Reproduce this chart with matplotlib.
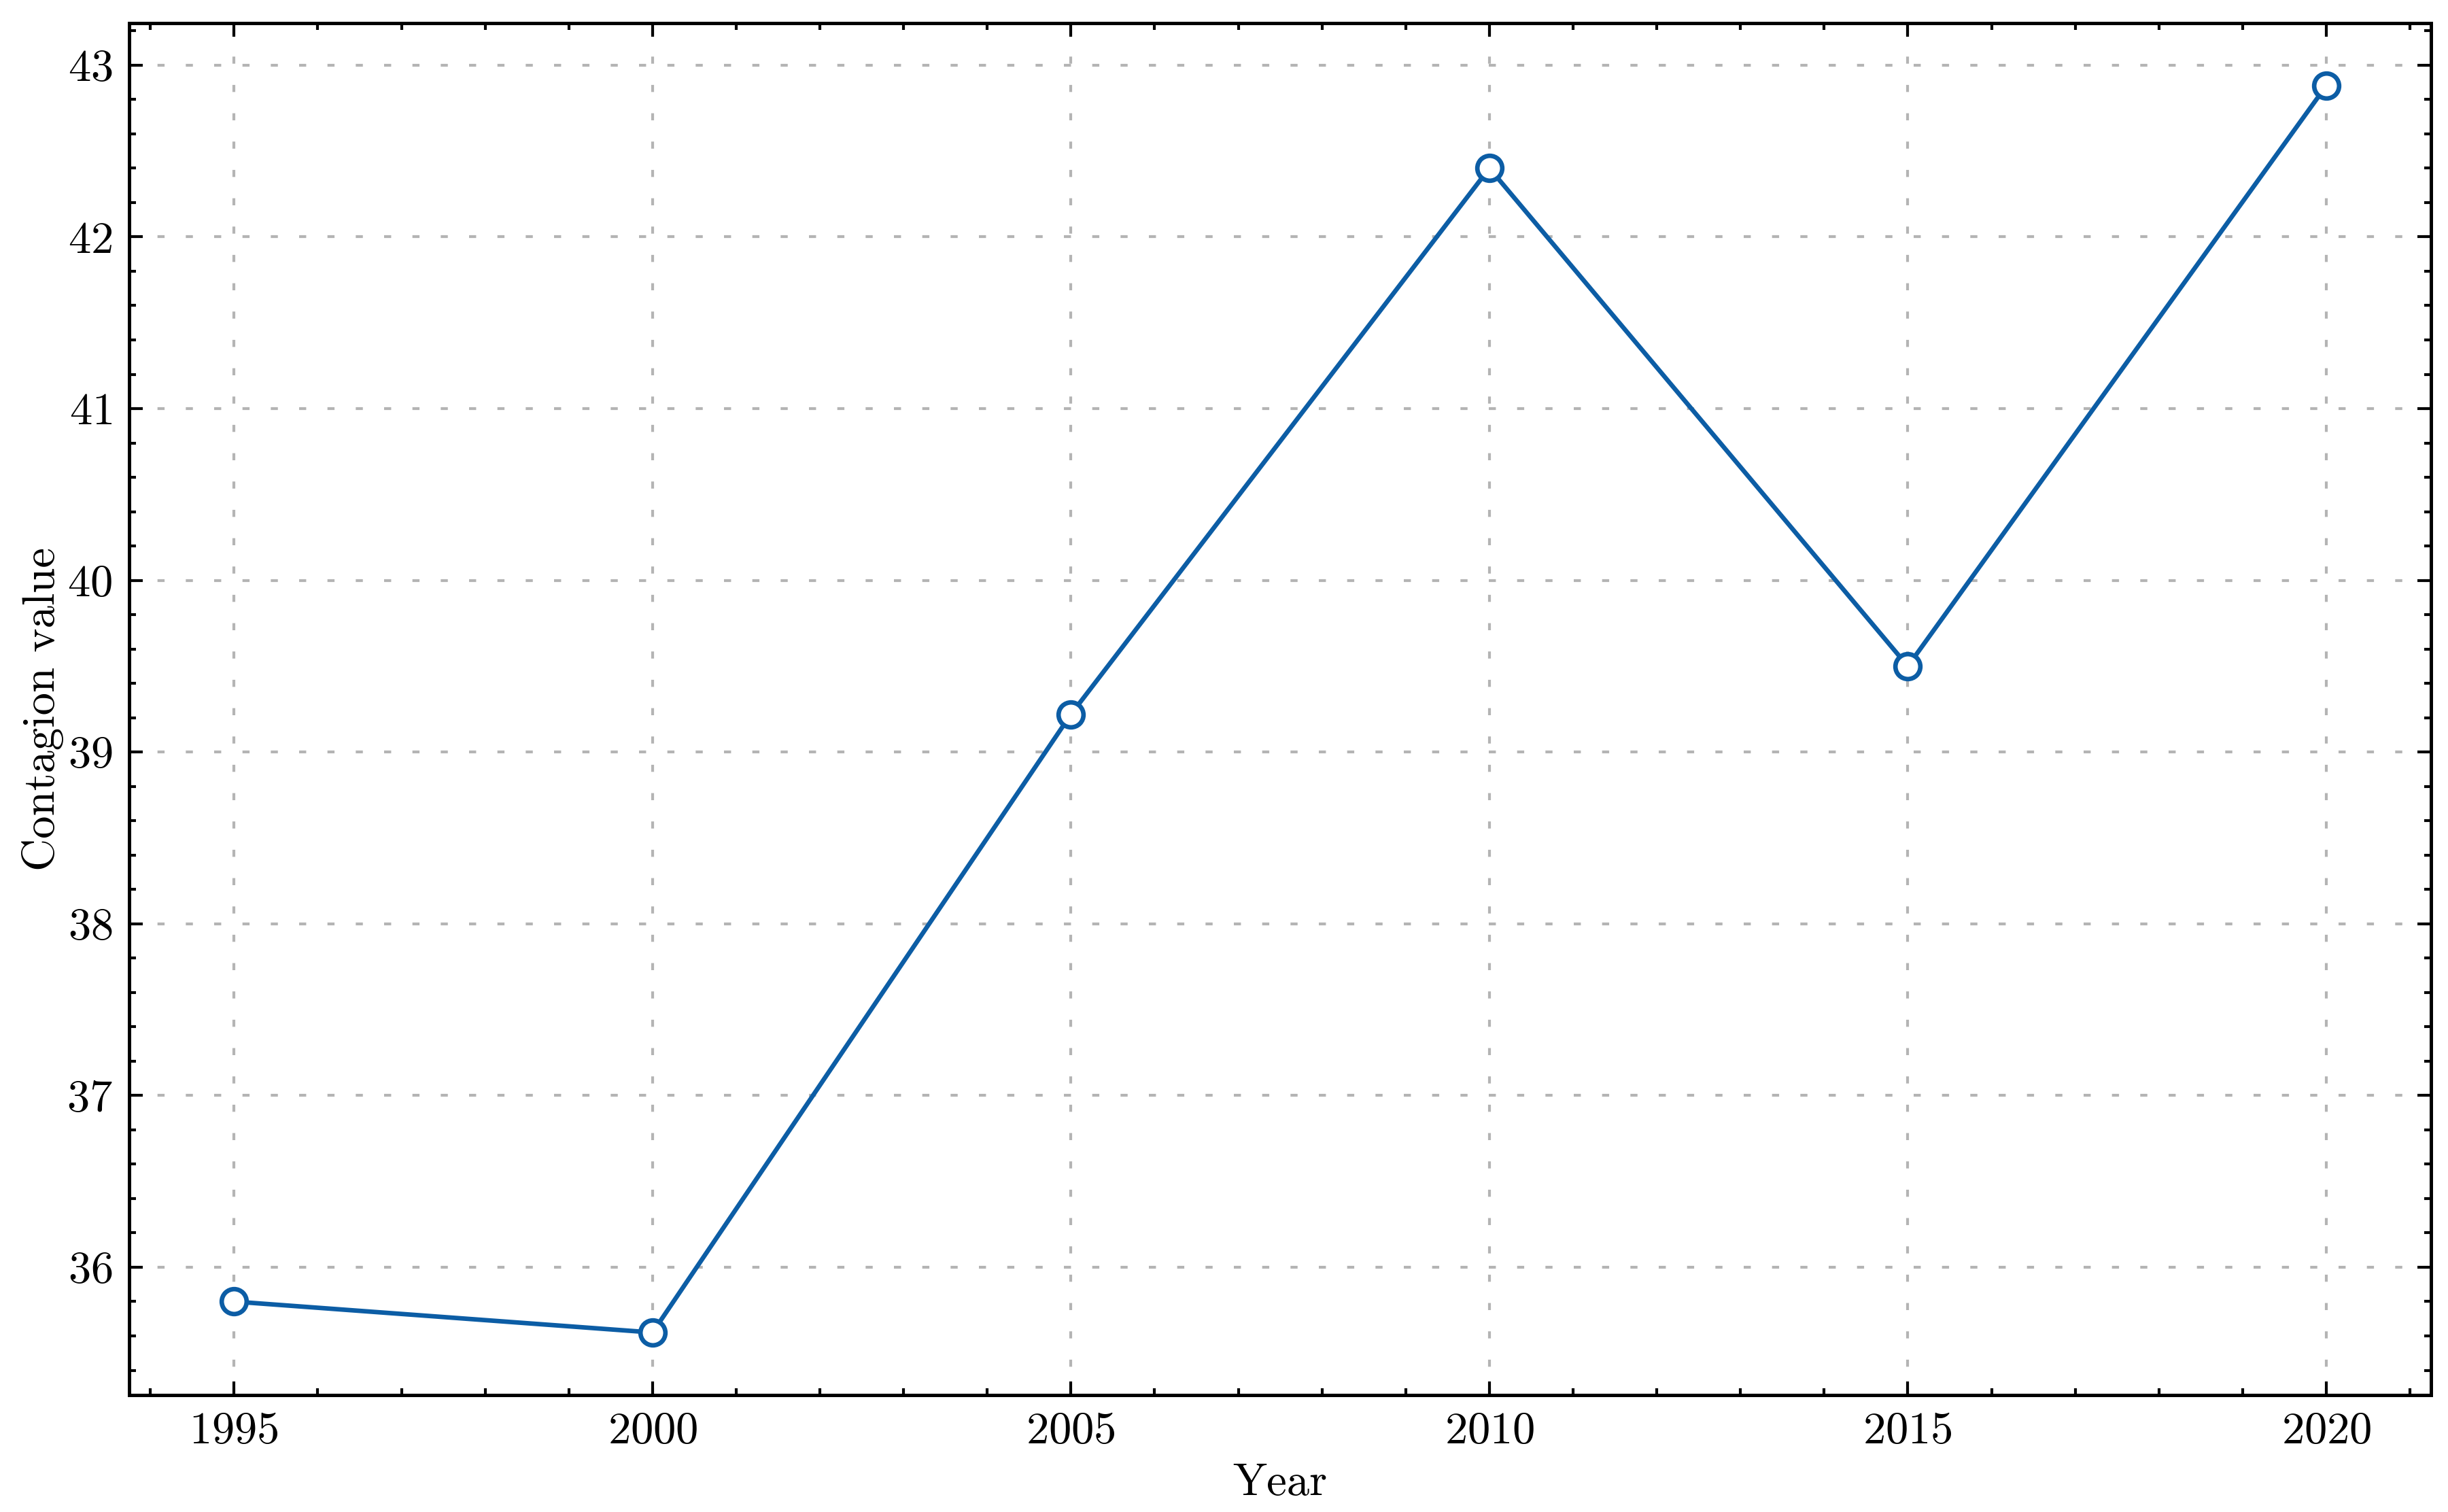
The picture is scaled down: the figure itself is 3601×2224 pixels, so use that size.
import numpy as np
import matplotlib
matplotlib.use('Agg')
import matplotlib.pyplot as plt
from matplotlib.ticker import AutoMinorLocator

# data
years = [1995, 2000, 2005, 2010, 2015, 2020]
contagion = [35.80, 35.62, 39.22, 42.40, 39.50, 42.88]

plt.rcParams['font.family'] = 'serif'
plt.rcParams['font.serif'] = ['cmr10', 'DejaVu Serif']
plt.rcParams['mathtext.fontset'] = 'cm'
plt.rcParams['axes.formatter.use_mathtext'] = True
plt.rcParams['font.size'] = 8

fig = plt.figure(figsize=(3601/600, 2224/600), dpi=600)
ax = fig.add_axes([0.0529, 0.0775, 0.9401, 0.907])

ax.plot(years, contagion, '-o', color='#0C5DA5', lw=0.8,
        markersize=4.4, markerfacecolor='white', markeredgewidth=0.8, zorder=3)

ax.set_xlabel('Year', labelpad=2)
ax.set_ylabel('Contagion value', labelpad=0.5)
ax.set_xticks(years)

ax.xaxis.set_minor_locator(AutoMinorLocator())
ax.yaxis.set_minor_locator(AutoMinorLocator())
ax.tick_params(which='both', direction='in', top=True, right=True, width=0.5)
ax.tick_params(which='major', length=2.4, pad=3)
ax.tick_params(which='minor', length=1.2)
for s in ax.spines.values():
    s.set_linewidth(0.6)

ax.grid(True, which='major', linestyle=(0, (2.5, 7.5)), color='#b4b4b4', lw=0.5)

plt.savefig('out.png', dpi=600)
